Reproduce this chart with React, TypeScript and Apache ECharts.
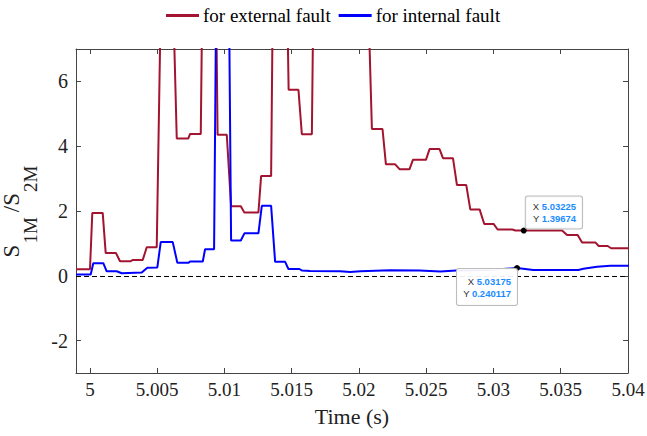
import React, { useEffect, useRef } from "react";
import * as echarts from "echarts";

const extTime = [4.99896, 5.0, 5.000171, 5.000945, 5.001168, 5.001935, 5.002232, 5.003028, 5.003199, 5.003921, 5.004219, 5.004963, 5.005246, 5.006213, 5.006451, 5.007314, 5.00744, 5.008237, 5.008333, 5.00939, 5.009487, 5.010171, 5.010491, 5.011213, 5.011481, 5.012522, 5.012723, 5.013467, 5.013579, 5.01468, 5.014769, 5.015499, 5.015751, 5.016496, 5.016592, 5.020722, 5.02096, 5.021749, 5.022001, 5.022693, 5.023013, 5.023757, 5.02401, 5.024978, 5.025246, 5.02599, 5.026243, 5.026987, 5.027284, 5.027976, 5.028274, 5.028966, 5.029315, 5.030007, 5.030305, 5.031399, 5.031622, 5.03225, 5.035097, 5.035469, 5.036257, 5.036585, 5.037574, 5.03782, 5.03849, 5.038743, 5.0401];
const extValue = [0.2, 0.2, 1.94, 1.94, 0.7, 0.7, 0.45, 0.45, 0.49, 0.49, 0.88, 0.88, 8, 8, 4.24, 4.24, 4.38, 4.38, 8, 8, 4.35, 4.35, 2.15, 2.15, 1.95, 1.95, 3.08, 3.08, 8, 8, 5.74, 5.74, 4.37, 4.37, 8, 8, 4.53, 4.53, 3.44, 3.44, 3.29, 3.29, 3.58, 3.58, 3.91, 3.91, 3.63, 3.63, 2.8, 2.8, 2.05, 2.05, 1.6, 1.6, 1.43, 1.43, 1.4, 1.39674, 1.4, 1.26, 1.26, 1.03, 1.03, 0.92, 0.92, 0.85, 0.85];

const intTime = [4.99896, 5.000052, 5.000246, 5.00099, 5.001243, 5.001987, 5.002359, 5.003847, 5.004263, 5.005007, 5.00526, 5.006153, 5.006496, 5.007314, 5.00744, 5.008385, 5.008557, 5.009226, 5.009375, 5.010342, 5.010491, 5.011213, 5.011481, 5.012522, 5.012775, 5.013467, 5.013765, 5.014509, 5.014754, 5.015573, 5.015774, 5.016369, 5.0186, 5.019345, 5.0201, 5.022321, 5.0245, 5.026042, 5.027232, 5.0292, 5.030729, 5.03175, 5.032961, 5.03631, 5.036682, 5.037701, 5.03869, 5.0401];
const intValue = [0.04, 0.04, 0.39, 0.39, 0.14, 0.14, 0.08, 0.1, 0.25, 0.26, 1.04, 1.04, 0.4, 0.4, 0.44, 0.44, 0.82, 0.82, 8.2, 8.2, 1.09, 1.09, 1.31, 1.31, 2.16, 2.16, 0.43, 0.43, 0.21, 0.21, 0.16, 0.15, 0.14, 0.12, 0.14, 0.17, 0.16, 0.13, 0.16, 0.18, 0.21, 0.240117, 0.18, 0.18, 0.22, 0.28, 0.31, 0.31];

const seriesNames = ["for external fault", "for internal fault"];
const xTickValues = [5, 5.005, 5.01, 5.015, 5.02, 5.025, 5.03, 5.035, 5.04];
const xTickLabels = ["5", "5.005", "5.01", "5.015", "5.02", "5.025", "5.03", "5.035", "5.04"];
const yTickValues = [-2, 0, 2, 4, 6];
const yTickLabels = ["-2", "0", "2", "4", "6"];
const xRange = [4.99896, 5.04];
const yRange = [-3, 7];
const tipExt = [5.03225, 1.39674];
const tipInt = [5.03175, 0.240117];
const tipExtText = ["5.03225", "1.39674"];
const tipIntText = ["5.03175", "0.240117"];

const SERIF = "'Liberation Serif', 'Times New Roman', serif";
const SANS = "'Liberation Sans', Arial, sans-serif";
const AXIS_COLOR = "#444";
const TEXT_COLOR = "#222";

function labelFor(values: number[], labels: string[], v: number) {
  let best = 0;
  for (let i = 1; i < values.length; i++) {
    if (Math.abs(values[i] - v) < Math.abs(values[best] - v)) best = i;
  }
  return labels[best];
}

const tipRich = {
  k: { fontFamily: SANS, fontSize: 9.5, color: "#333", lineHeight: 12, align: "right" },
  v: { fontFamily: SANS, fontSize: 9.5, color: "#1a8cff", fontWeight: "bold", lineHeight: 12, align: "right" },
};

export default function App() {
  const ref = useRef<HTMLDivElement>(null);
  useEffect(() => {
    const chart = echarts.init(ref.current!, null, { renderer: "svg" });
    const tickStyle = { show: true, inside: true, length: 5, lineStyle: { color: AXIS_COLOR, width: 1 } };
    const option: any = {
      animation: false,
      backgroundColor: "#fff",
      legend: {
        data: seriesNames,
        top: 1,
        left: 161,
        icon: "rect",
        itemWidth: 33,
        itemHeight: 3,
        itemGap: 8,
        textStyle: { fontFamily: SERIF, fontSize: 19, color: "#000", padding: [0, 0, 0, -1] },
      },
      grid: { left: 76, right: 19, top: 49, bottom: 63, containLabel: false, outerBoundsMode: "none" },
      xAxis: [
        {
          type: "value",
          min: xRange[0],
          max: xRange[1],
          position: "bottom",
          splitLine: { show: false },
          axisLine: { show: true, onZero: false, lineStyle: { color: AXIS_COLOR, width: 1 } },
          axisTick: { ...tickStyle, customValues: xTickValues },
          axisLabel: {
            customValues: xTickValues,
            formatter: (v: number) => labelFor(xTickValues, xTickLabels, v),
            fontFamily: SERIF,
            fontSize: 19,
            color: TEXT_COLOR,
            margin: 7,
          },
          name: "Time (s)",
          nameLocation: "middle",
          nameGap: 32,
          nameTextStyle: { fontFamily: SERIF, fontSize: 22, color: TEXT_COLOR },
        },
        {
          type: "value",
          min: xRange[0],
          max: xRange[1],
          position: "top",
          splitLine: { show: false },
          axisLine: { show: true, onZero: false, lineStyle: { color: AXIS_COLOR, width: 1 } },
          axisTick: { ...tickStyle, customValues: xTickValues },
          axisLabel: { show: false },
        },
      ],
      yAxis: [
        {
          type: "value",
          min: yRange[0],
          max: yRange[1],
          position: "left",
          splitLine: { show: false },
          axisLine: { show: true, onZero: false, lineStyle: { color: AXIS_COLOR, width: 1 } },
          axisTick: { ...tickStyle, customValues: yTickValues },
          axisLabel: {
            customValues: yTickValues,
            formatter: (v: number) => labelFor(yTickValues, yTickLabels, v),
            fontFamily: SERIF,
            fontSize: 20,
            color: TEXT_COLOR,
            margin: 8,
          },
          name: "{m|S}{s|1M}{m|/S}{s|2M}",
          nameLocation: "middle",
          nameRotate: 90,
          nameGap: 32,
          nameTextStyle: {
            rich: {
              m: { fontFamily: SERIF, fontSize: 23, color: TEXT_COLOR, lineHeight: 23, verticalAlign: "top", padding: [0, 0, 0, 2] },
              s: { fontFamily: SERIF, fontSize: 19, color: TEXT_COLOR, lineHeight: 19, padding: [21, 3, 0, 1], verticalAlign: "top" },
            },
          },
        },
        {
          type: "value",
          min: yRange[0],
          max: yRange[1],
          position: "right",
          splitLine: { show: false },
          axisLine: { show: true, onZero: false, lineStyle: { color: AXIS_COLOR, width: 1 } },
          axisTick: { ...tickStyle, customValues: yTickValues },
          axisLabel: { show: false },
        },
      ],
      series: [
        {
          name: seriesNames[0],
          type: "line",
          xAxisIndex: 0,
          yAxisIndex: 0,
          data: extTime.map((t, i) => [t, extValue[i]]),
          showSymbol: false,
          symbol: "none",
          clip: true,
          color: "#A2142F",
          lineStyle: { color: "#A2142F", width: 2 },
          markLine: {
            silent: true,
            symbol: "none",
            label: { show: false },
            lineStyle: { color: "#000", type: [5, 3], width: 1 },
            data: [{ yAxis: 0 }],
          },
          markPoint: {
            symbol: "circle",
            symbolSize: 6,
            itemStyle: { color: "#000" },
            data: [
              {
                coord: tipExt,
                label: {
                  show: true,
                  position: [5, 1],
                  align: "left",
                  verticalAlign: "bottom",
                  formatter: `{k|X }{v|${tipExtText[0]}}\n{k|Y }{v|${tipExtText[1]}}`,
                  backgroundColor: "rgba(255,255,255,0.85)",
                  borderColor: "#bbb",
                  borderWidth: 1,
                  borderRadius: 2,
                  padding: [4, 6, 4, 7],
                  rich: tipRich,
                },
              },
            ],
          },
        },
        {
          name: seriesNames[1],
          type: "line",
          xAxisIndex: 0,
          yAxisIndex: 0,
          data: intTime.map((t, i) => [t, intValue[i]]),
          showSymbol: false,
          symbol: "none",
          clip: true,
          color: "#0000FF",
          lineStyle: { color: "#0000FF", width: 2 },
          markPoint: {
            symbol: "circle",
            symbolSize: 6,
            itemStyle: { color: "#000" },
            data: [
              {
                coord: tipInt,
                label: {
                  show: true,
                  position: [3, 4],
                  align: "right",
                  verticalAlign: "top",
                  formatter: `{k|X }{v|${tipIntText[0]}}\n{k|Y }{v|${tipIntText[1]}}`,
                  backgroundColor: "rgba(255,255,255,0.92)",
                  borderColor: "#bbb",
                  borderWidth: 1,
                  borderRadius: 2,
                  padding: [6, 6, 6, 6],
                  rich: tipRich,
                },
              },
            ],
          },
        },
      ],
    };
    chart.setOption(option);
    return () => chart.dispose();
  }, []);
  return <div ref={ref} style={{ position: "fixed", left: 0, top: 0, width: 647, height: 436 }} />;
}
